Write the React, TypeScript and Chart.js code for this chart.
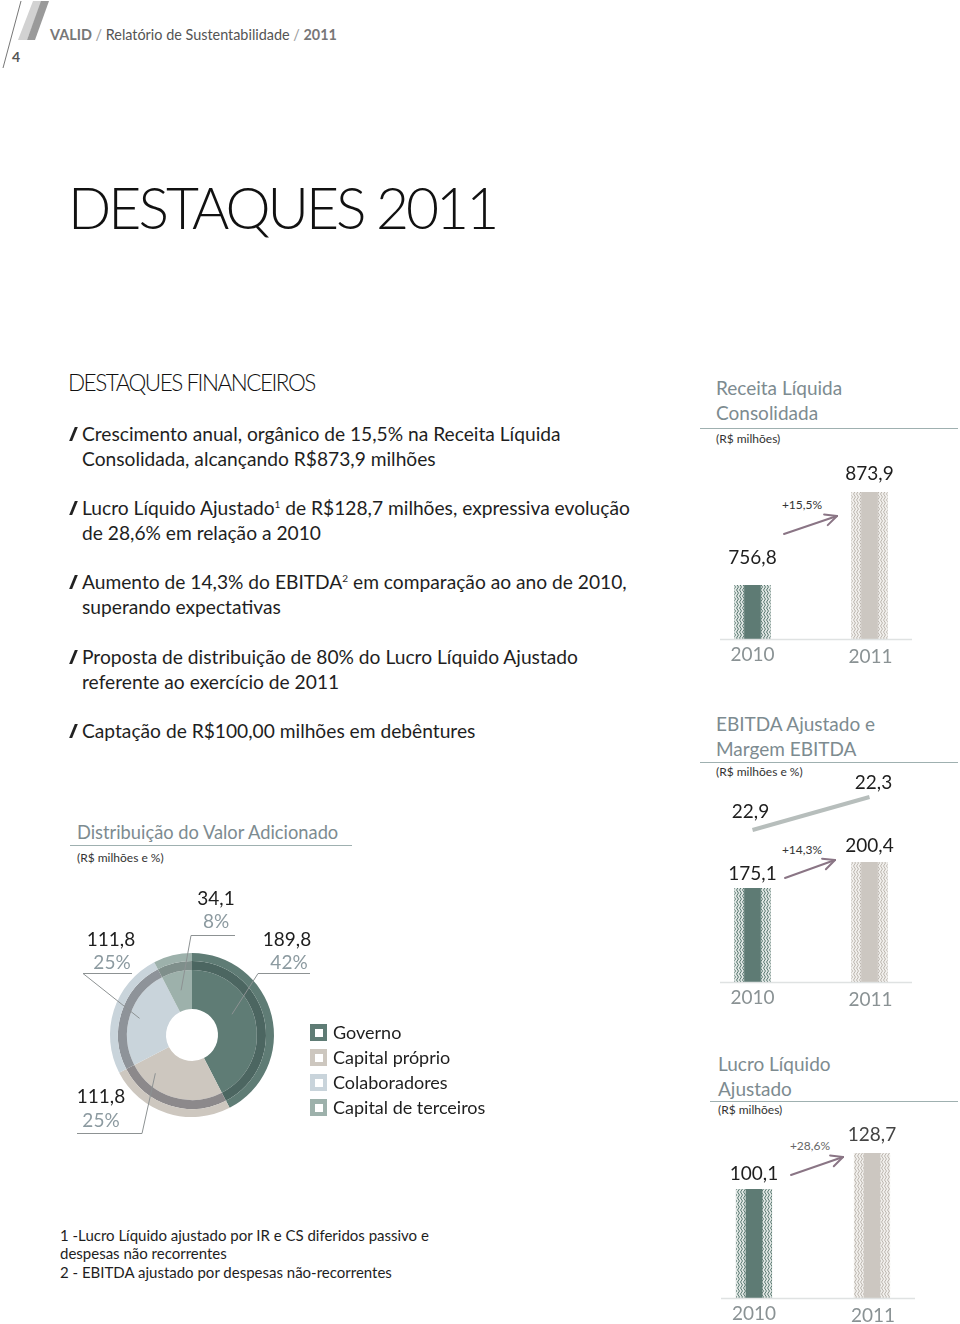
import React, { useEffect, useRef } from "react";
import { Chart, registerables } from "chart.js";
Chart.register(...registerables);

// ---------- data ----------
const years = ["2010", "2011"];
const receitaValues = [756.8, 873.9];
const ebitdaValues = [175.1, 200.4];
const margemValues = [22.9, 22.3];
const lucroValues = [100.1, 128.7];
const growthLabels = ["+15,5%", "+14,3%", "+28,6%"];
const dvaCategories = ["Governo", "Capital próprio", "Colaboradores", "Capital de terceiros"];
const dvaValues = [189.8, 111.8, 111.8, 34.1];

// ---------- styles ----------
const FONT = "Lato";
const DARK = "#5e7b74";
const LIGHT = "#ccc7c1";
const dvaInner = ["#5f7c75", "#cdc7bf", "#c9d4db", "#9db1ab"];
const dvaRing = ["#4c6661", "#8c898b", "#8e9399", "#7f8f8b"];
const dvaOuter = ["#5f7c75", "#cdc7bf", "#c9d4db", "#9db1ab"];
const TITLE_GRAY = "#7d8b90";
const RULE = "#9fb0b0";

const fmt = (v: number) => v.toFixed(1).replace(".", ",");

function stripePattern(bg: string, fg: string): CanvasPattern | string {
  const c = document.createElement("canvas");
  c.width = 3;
  c.height = 6;
  const x = c.getContext("2d");
  if (!x) return fg;
  x.fillStyle = bg;
  x.fillRect(0, 0, 3, 6);
  x.strokeStyle = fg;
  x.lineWidth = 1;
  x.beginPath();
  x.moveTo(0.5, 0);
  x.lineTo(2.5, 3);
  x.lineTo(0.5, 6);
  x.stroke();
  return x.createPattern(c, "repeat") || fg;
}

type BarProps = {
  values: number[];
  left: number;
  top: number;
  width: number;
  height: number;
  padTop: number;
  padBottom: number;
  yMin: number;
  yMax: number;
  labelOffsets: number[];
  line?: { values: number[]; min: number; max: number; offsets: number[] };
  valueColors?: string[];
};

function BarChart(p: BarProps) {
  const ref = useRef<HTMLCanvasElement>(null);
  useEffect(() => {
    if (!ref.current) return;
    const datasets: any[] = [
      {
        type: "bar",
        data: p.values,
        backgroundColor: [DARK, LIGHT],
        borderColor: [stripePattern("#dfe6e3", "#5e7b74"), stripePattern("#f1efec", "#bdb7b0")],
        borderWidth: { left: 10, right: 10, top: 0, bottom: 0 },
        borderSkipped: false,
        barThickness: 36,
        yAxisID: "y",
      },
    ];
    if (p.line) {
      datasets.push({
        type: "line",
        data: p.line.values,
        borderColor: "#b7bebc",
        borderWidth: 4,
        pointRadius: 0,
        yAxisID: "y2",
      });
    }
    const scales: any = {
      x: { display: false, offset: true },
      y: { display: false, min: p.yMin, max: p.yMax },
    };
    if (p.line) scales.y2 = { display: false, reverse: true, min: p.line.min, max: p.line.max };

    const labelPlugin = {
      id: "barLabels",
      afterDatasetsDraw(chart: any) {
        const ctx = chart.ctx;
        const area = chart.chartArea;
        ctx.save();
        // baseline
        ctx.strokeStyle = "#dfe2e2";
        ctx.lineWidth = 1.5;
        ctx.beginPath();
        ctx.moveTo(area.left + 26, area.bottom + 0.5);
        ctx.lineTo(area.right - 16, area.bottom + 0.5);
        ctx.stroke();
        const meta = chart.getDatasetMeta(0);
        ctx.textAlign = "center";
        ctx.textBaseline = "middle";
        meta.data.forEach((bar: any, i: number) => {
          ctx.font = `19px ${FONT}`;
          ctx.fillStyle = p.valueColors ? p.valueColors[i] : "#1e1e1e";
          ctx.fillText(fmt(p.values[i]), bar.x, bar.y - p.labelOffsets[i]);
          ctx.fillStyle = "#8a9294";
          ctx.fillText(years[i], bar.x + i, area.bottom + 16 + i * 2);
        });
        if (p.line) {
          const lm = chart.getDatasetMeta(1);
          lm.data.forEach((pt: any, i: number) => {
            ctx.font = `19px ${FONT}`;
            ctx.fillStyle = "#1e1e1e";
            ctx.fillText(fmt(p.line!.values[i]), pt.x + (i === 0 ? -2 : 4), pt.y - p.line!.offsets[i]);
          });
        }
        ctx.restore();
      },
    };

    const chart = new Chart(ref.current, {
      type: "bar",
      data: { labels: years, datasets },
      options: {
        animation: false,
        responsive: false,
        layout: { padding: { top: p.padTop, bottom: p.padBottom, left: 0, right: 0 } },
        plugins: { legend: { display: false }, tooltip: { enabled: false } },
        scales,
      },
      plugins: [labelPlugin],
    } as any);
    return () => chart.destroy();
  }, []);
  return (
    <canvas
      ref={ref}
      width={p.width}
      height={p.height}
      style={{ position: "absolute", left: p.left, top: p.top, width: p.width, height: p.height }}
    />
  );
}

// label layout for the doughnut (relative to the chart centre)
const dvaLabelLayout = [
  { t: 0.41, r: 45, value: [95, -95], pct: [97, -72], elbow: [66, -62], end: [118, -62] },
  { t: 0.79, r: 53, value: [-91, 62], pct: [-91, 86], elbow: [-50, 98], end: [-115, 98] },
  { t: 0.5, r: 55, value: [-81, -95], pct: [-80, -72], elbow: [-109, -62], end: [-60, -62] },
  { t: 0.5, r: 46, value: [24, -136], pct: [24, -113], elbow: [-1, -100], end: [43, -100] },
];

function DvaChart() {
  const ref = useRef<HTMLCanvasElement>(null);
  useEffect(() => {
    if (!ref.current) return;
    const total = dvaValues.reduce((a, b) => a + b, 0);
    const labelPlugin = {
      id: "dvaLabels",
      afterDatasetsDraw(chart: any) {
        const ctx = chart.ctx;
        const meta = chart.getDatasetMeta(2);
        ctx.save();
        meta.data.forEach((arc: any, i: number) => {
          const L = dvaLabelLayout[i];
          const { x, y, startAngle, endAngle } = arc.getProps(["x", "y", "startAngle", "endAngle"], true);
          const a = startAngle + L.t * (endAngle - startAngle);
          const px = x + L.r * Math.cos(a);
          const py = y + L.r * Math.sin(a);
          ctx.strokeStyle = "#8d9293";
          ctx.lineWidth = 1;
          ctx.beginPath();
          ctx.moveTo(px, py);
          ctx.lineTo(x + L.elbow[0], y + L.elbow[1] + 0.5);
          ctx.lineTo(x + L.end[0], y + L.end[1] + 0.5);
          ctx.stroke();
          ctx.textAlign = "center";
          ctx.textBaseline = "middle";
          ctx.font = `19px ${FONT}`;
          ctx.fillStyle = "#1e1e1e";
          ctx.fillText(fmt(dvaValues[i]), x + L.value[0], y + L.value[1]);
          ctx.fillStyle = "#8c9aa0";
          ctx.fillText(Math.round((dvaValues[i] / total) * 100) + "%", x + L.pct[0], y + L.pct[1]);
        });
        ctx.restore();
      },
    };
    const common = { borderWidth: 0, hoverOffset: 0, offset: 0 };
    const chart = new Chart(ref.current, {
      type: "doughnut",
      data: {
        labels: dvaCategories,
        datasets: [
          { data: dvaValues, backgroundColor: dvaOuter, weight: 8, ...common },
          { data: dvaValues, backgroundColor: dvaRing, weight: 9, ...common },
          { data: dvaValues, backgroundColor: dvaInner, weight: 39, ...common },
        ],
      },
      options: {
        animation: false,
        responsive: false,
        cutout: "31.7%",
        layout: { padding: { left: 50, right: 46, top: 73, bottom: 23 } },
        plugins: { legend: { display: false }, tooltip: { enabled: false } },
      },
      plugins: [labelPlugin],
    } as any);
    return () => chart.destroy();
  }, []);
  return (
    <canvas
      ref={ref}
      width={260}
      height={260}
      style={{ position: "absolute", left: 60, top: 880, width: 260, height: 260 }}
    />
  );
}

// ---------- text helpers ----------
function T(props: {
  x: number;
  y: number;
  size: number;
  color?: string;
  weight?: number;
  ls?: number;
  align?: "left" | "center";
  children: React.ReactNode;
}) {
  const { x, y, size, color = "#1e1e1e", weight = 400, ls = 0, align = "left" } = props;
  return (
    <div
      style={{
        position: "absolute",
        left: align === "center" ? x - 100 : x,
        width: align === "center" ? 200 : undefined,
        textAlign: align,
        top: y - size * 0.62,
        fontSize: size,
        lineHeight: `${size * 1.24}px`,
        color,
        fontWeight: weight,
        letterSpacing: ls,
        whiteSpace: "nowrap",
      }}
    >
      {props.children}
    </div>
  );
}

function Slash({ y }: { y: number }) {
  return (
    <div
      style={{
        position: "absolute",
        left: 72,
        top: y - 7,
        width: 3,
        height: 14,
        background: "#222",
        transform: "skewX(-22deg)",
      }}
    />
  );
}

function Arrow({ x1, y1, x2, y2 }: { x1: number; y1: number; x2: number; y2: number }) {
  const ang = Math.atan2(y2 - y1, x2 - x1);
  const len = 13;
  const a1 = ang + Math.PI - 0.45;
  const a2 = ang + Math.PI + 0.45;
  return (
    <g stroke="#8a7585" strokeWidth={2} fill="none" strokeLinecap="round">
      <line x1={x1} y1={y1} x2={x2} y2={y2} />
      <line x1={x2} y1={y2} x2={x2 + len * Math.cos(a1)} y2={y2 + len * Math.sin(a1)} />
      <line x1={x2} y1={y2} x2={x2 + len * Math.cos(a2)} y2={y2 + len * Math.sin(a2)} />
    </g>
  );
}

const BODY = 19.2;

export default function App() {
  return (
    <div
      style={{
        position: "absolute",
        left: 0,
        top: 0,
        width: 960,
        height: 1324,
        overflow: "hidden",
        background: "#fff",
        fontFamily: FONT,
        color: "#1e1e1e",
      }}
    >
      {/* header graphics */}
      <svg width={960} height={1324} style={{ position: "absolute", left: 0, top: 0 }}>
        <line x1={3} y1={68} x2={21} y2={1} stroke="#777" strokeWidth={1} />
        <polygon points="18,40 27,40 42,1 33,1" fill="#d2d2d2" />
        <polygon points="27,40 35,40 49,1 41,1" fill="#9a9a9a" />
        <Arrow x1={784} y1={534} x2={837} y2={516} />
        <Arrow x1={785} y1={878} x2={835} y2={860} />
        <Arrow x1={791} y1={1175} x2={843} y2={1157} />
        {/* title rules */}
        <line x1={700} y1={428.5} x2={958} y2={428.5} stroke={RULE} strokeWidth={1} />
        <line x1={700} y1={762.5} x2={958} y2={762.5} stroke={RULE} strokeWidth={1} />
        <line x1={710} y1={1101.5} x2={958} y2={1101.5} stroke={RULE} strokeWidth={1} />
        <line x1={70} y1={845.5} x2={352} y2={845.5} stroke={RULE} strokeWidth={1} />
      </svg>

      <T x={50} y={35} size={14.4} color="#6f6f6f">
        <b style={{ color: "#777" }}>VALID</b>
        <span style={{ color: "#999" }}> / </span>
        <span style={{ color: "#555" }}>Relatório de Sustentabilidade</span>
        <span style={{ color: "#999" }}> / </span>
        <b style={{ color: "#777" }}>2011</b>
      </T>
      <T x={12} y={57} size={14} color="#555" weight={700}>
        4
      </T>

      <T x={68} y={207} size={57} weight={300} color="#111" ls={-3}>
        DESTAQUES 2011
      </T>
      <T x={68} y={383} size={22.5} weight={300} color="#111" ls={-1.5}>
        DESTAQUES FINANCEIROS
      </T>

      {/* bullets */}
      <Slash y={434} />
      <T x={82} y={434} size={BODY}>Crescimento anual, orgânico de 15,5% na Receita Líquida</T>
      <T x={82} y={459} size={BODY}>Consolidada, alcançando R$873,9 milhões</T>

      <Slash y={508} />
      <T x={82} y={508} size={BODY}>
        Lucro Líquido Ajustado<sup style={{ fontSize: 10, lineHeight: 0 }}>1</sup> de R$128,7 milhões, expressiva evolução
      </T>
      <T x={82} y={533} size={BODY}>de 28,6% em relação a 2010</T>

      <Slash y={582} />
      <T x={82} y={582} size={BODY}>
        Aumento de 14,3% do EBITDA<sup style={{ fontSize: 10, lineHeight: 0 }}>2</sup> em comparação ao ano de 2010,
      </T>
      <T x={82} y={607} size={BODY}>superando expectativas</T>

      <Slash y={657} />
      <T x={82} y={657} size={BODY}>Proposta de distribuição de 80% do Lucro Líquido Ajustado</T>
      <T x={82} y={682} size={BODY}>referente ao exercício de 2011</T>

      <Slash y={731} />
      <T x={82} y={731} size={BODY}>Captação de R$100,00 milhões em debêntures</T>

      {/* right column titles */}
      <T x={716} y={388} size={19} color={TITLE_GRAY}>Receita Líquida</T>
      <T x={716} y={413} size={19} color={TITLE_GRAY}>Consolidada</T>
      <T x={716} y={439} size={12} color="#333">(R$ milhões)</T>

      <T x={716} y={724} size={19} color={TITLE_GRAY}>EBITDA Ajustado e</T>
      <T x={716} y={749} size={19} color={TITLE_GRAY}>Margem EBITDA</T>
      <T x={716} y={772} size={12} color="#333">(R$ milhões e %)</T>

      <T x={718} y={1064} size={19} color={TITLE_GRAY}>Lucro Líquido</T>
      <T x={718} y={1089} size={19} color={TITLE_GRAY}>Ajustado</T>
      <T x={718} y={1110} size={12} color="#333">(R$ milhões)</T>

      <T x={802} y={505} size={12} color="#333" align="center">{growthLabels[0]}</T>
      <T x={802} y={850} size={12} color="#333" align="center">{growthLabels[1]}</T>
      <T x={810} y={1146} size={12} color="#666" align="center">{growthLabels[2]}</T>

      <T x={77} y={832} size={18.3} color={TITLE_GRAY}>Distribuição do Valor Adicionado</T>
      <T x={77} y={858} size={12} color="#333">(R$ milhões e %)</T>

      {/* charts */}
      <BarChart
        values={receitaValues}
        left={694}
        top={440}
        width={234}
        height={240}
        padTop={20}
        padBottom={41}
        yMin={688.8}
        yMax={914.2}
        labelOffsets={[27, 18]}
      />
      <BarChart
        values={ebitdaValues}
        left={694}
        top={770}
        width={234}
        height={245}
        padTop={10}
        padBottom={33}
        yMin={83.6}
        yMax={280.2}
        labelOffsets={[14, 16]}
        line={{ values: margemValues, min: 21.991, max: 25.664, offsets: [18, 14] }}
      />
      <BarChart
        values={lucroValues}
        left={695}
        top={1120}
        width={236}
        height={204}
        padTop={10}
        padBottom={26}
        yMin={13.5}
        yMax={147.0}
        labelOffsets={[15, 18]}
        valueColors={["#1e1e1e", "#444"]}
      />
      <DvaChart />

      {/* legend */}
      {dvaCategories.map((c, i) => (
        <React.Fragment key={c}>
          <div
            style={{
              position: "absolute",
              left: 310,
              top: 1024 + i * 25,
              width: 17,
              height: 17,
              background: dvaInner[i],
            }}
          >
            <div style={{ position: "absolute", left: 4.5, top: 4.5, width: 8, height: 8, background: "#fff" }} />
          </div>
          <T x={333} y={1032 + i * 25} size={18}>
            {c}
          </T>
        </React.Fragment>
      ))}

      {/* footnotes */}
      <T x={60} y={1235} size={15}>1 -Lucro Líquido ajustado por IR e CS diferidos passivo e</T>
      <T x={60} y={1253} size={15}>despesas não recorrentes</T>
      <T x={60} y={1272} size={15}>2 - EBITDA ajustado por despesas não-recorrentes</T>
    </div>
  );
}
